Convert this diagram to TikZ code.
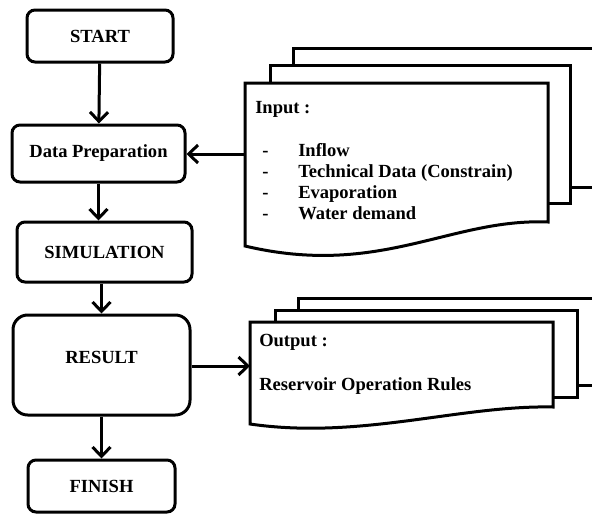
\documentclass[tikz,border=0pt]{standalone}
\usepackage{fontspec}
\setmainfont{Liberation Serif}
\usetikzlibrary{arrows.meta,calc}
\tikzstyle{flowarrow}=[-{Straight Barb[length=7pt,width=13.5pt]}, line width=2.25pt]
\tikzstyle{sheet}=[line width=2.25pt, line join=miter]
\tikzset{
    process/.style={draw, line width=2.25pt, rounded corners=6pt, inner sep=0pt,
        font=\bfseries\fontsize{13.9}{16}\selectfont},
    doctext/.style={anchor=base west, inner sep=0pt,
        font=\bfseries\fontsize{13.9}{16}\selectfont}
}

\begin{document}
\begin{tikzpicture}[x=0.75pt, y=-0.75pt]
  \useasboundingbox (0,0) rectangle (592,514);

  % flow boxes
  \node (start)[process, minimum width=109.5pt, minimum height=39pt] at (100,36) {START};
  \node (data_prep)[process, minimum width=129.75pt, minimum height=42.75pt] at (98.5,153.5) {Data Preparation};
  \node (simulation)[process, minimum width=131.25pt, minimum height=45pt] at (104.5,252) {SIMULATION};
  \node (result)[process, rounded corners=11pt, minimum width=132.75pt, minimum height=75pt,
        label={[yshift=6pt, font=\bfseries\fontsize{13.9}{16}\selectfont]center:RESULT}] at (101.5,365) {};
  \node (finish)[process, minimum width=110.25pt, minimum height=39pt] at (101.5,486) {FINISH};

  %%%%%%%% input sheets %%%%%%%%
  \draw[sheet] (293,65) -- (293,48) -- (592,48);
  \draw[sheet] (570,187) -- (592,187);
  \draw[sheet] (270,83) -- (270,65) -- (570,65) -- (570,203) -- (548,203);
  \draw[sheet] (245,83) -- (548,83) -- (548,222)
        .. controls (450,218) and (380,278) .. (245,246) -- cycle;
  \coordinate (in_doc) at (245,154);

  \node (in_title)[doctext] at (255,113) {Input :};
  \node (in_d1)[doctext] at (262,156) {-};
  \node (in_d2)[doctext] at (262,177) {-};
  \node (in_d3)[doctext] at (262,198) {-};
  \node (in_d4)[doctext] at (262,219) {-};
  \node (in_inflow)[doctext] at (298,156) {Inflow};
  \node (in_tech)[doctext] at (298,177) {Technical Data (Constrain)};
  \node (in_evap)[doctext] at (298,198) {Evaporation};
  \node (in_demand)[doctext] at (298,219) {Water demand};

  %%%%%%%% output sheets %%%%%%%%
  \draw[sheet] (298,310) -- (298,298) -- (592,298);
  \draw[sheet] (577,385) -- (592,385);
  \draw[sheet] (275,322) -- (275,310) -- (577,310) -- (577,397) -- (553,397);
  \draw[sheet] (250,322) -- (553,322) -- (553,407)
        .. controls (460,405) and (360,440) .. (250,424) -- cycle;
  \coordinate (out_doc) at (250,366);

  \node (out_title)[doctext] at (259,346) {Output :};
  \node (out_rules)[doctext] at (259,390) {Reservoir Operation Rules};

  % connectors
  \draw[flowarrow] (start) -- (data_prep);
  \draw[flowarrow] (data_prep) -- (data_prep |- simulation.north);
  \draw[flowarrow] (simulation.south -| result.north) -- (result);
  \draw[flowarrow] (result) -- (finish);
  \draw[flowarrow] (in_doc) -- (in_doc -| data_prep.east);
  \draw[flowarrow] (result.east |- out_doc) -- (out_doc);
\end{tikzpicture}
\end{document}
